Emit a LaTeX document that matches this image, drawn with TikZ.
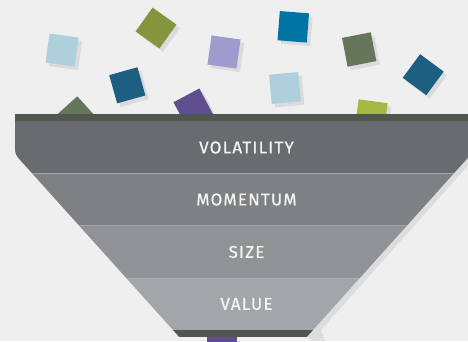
\documentclass[tikz,border=0pt]{standalone}
\usepackage{fontspec}
\setmainfont{Fira Sans}
\newfontfamily\lblfont{Fira Sans}[LetterSpace=7, FakeBold=0.6]
\definecolor{bgc}{HTML}{EFEFEF}
\definecolor{shd}{HTML}{DCDDDF}
\definecolor{sqshd}{HTML}{D9DBDD}
\definecolor{barc}{HTML}{51564F}
\definecolor{bandA}{HTML}{6A6B6F}
\definecolor{bandB}{HTML}{7F8084}
\definecolor{bandC}{HTML}{919296}
\definecolor{bandD}{HTML}{A4A5A8}
\definecolor{txt}{HTML}{F4F4F4}
\definecolor{lblue}{HTML}{AECFDC}
\definecolor{olive}{HTML}{84953E}
\definecolor{lav}{HTML}{A09BCD}
\definecolor{dteal}{HTML}{1C5F80}
\definecolor{ggreen}{HTML}{65765A}
\definecolor{purp}{HTML}{5F4E90}
\definecolor{blu}{HTML}{0073A5}
\definecolor{ygreen}{HTML}{A6B843}
\tikzset{
  sq/.style={minimum size=29.3pt, inner sep=0pt, outer sep=0pt, draw=none, fill=#1},
  sqs/.style={minimum size=29.3pt, inner sep=0pt, outer sep=0pt, draw=none, fill=sqshd},
  lbl/.style={text=txt, font=\lblfont\fontsize{17}{18}\selectfont, inner sep=0pt}
}
\newcommand{\mysq}[5]{%
  \node[sqs, rotate=#3] (#5s) at (#1+3.5,#2+3.5) {};
  \node[sq=#4, rotate=#3] (#5) at (#1,#2) {};}
\begin{document}
\begin{tikzpicture}[x=1pt,y=-1pt]
\useasboundingbox (0,0) rectangle (468,341);
\fill[bgc] (0,0) rectangle (468,341);
% squares
\mysq{62}{50}{-8}{lblue}{q1}
\mysq{156}{28}{-35.5}{olive}{q2}
\mysq{224}{52}{-8}{lav}{q3}
\mysq{127.3}{85.3}{15.7}{dteal}{q4}
\mysq{76.2}{117}{-48}{ggreen}{q5}
\mysq{193.3}{108.3}{28}{purp}{q6}
\mysq{293.3}{26.8}{-4.5}{blu}{q7}
\mysq{359.2}{49.5}{11}{ggreen}{q8}
\mysq{285}{88}{5}{lblue}{q9}
\mysq{423.2}{74.7}{-36.4}{dteal}{q10}
\mysq{371.2}{115.8}{-7.6}{ygreen}{q11}
\mysq{222}{352}{0}{purp}{q12}
% funnel shadow
\fill[shd] (478,114) -- (478,154.4) -- (321,330) -- (325,341) -- (313,341) -- (300,330) -- (300,114) -- cycle;
% funnel
\begin{scope}
\clip (15,114) -- (15,145) .. controls (15,154.4) .. (21.7,161.8) -- (179.3,337) -- (306.7,337) -- (464.3,161.8) .. controls (471,154.4) .. (471,145) -- (471,114) -- cycle;
\fill[barc] (0,114) rectangle (500,121);
\fill[bandA] (0,121) rectangle (500,173);
\fill[bandB] (0,173) rectangle (500,225);
\fill[bandC] (0,225) rectangle (500,278);
\fill[bandD] (0,278) rectangle (500,330);
\fill[barc] (0,330) rectangle (500,337);
\fill[bandB!70!white] (0,172.5) rectangle (500,173.5);
\fill[bandC!85!white] (0,224.5) rectangle (500,225.5);
\fill[bandD!90!white] (0,277.5) rectangle (500,278.5);
\end{scope}
\node[lbl] (t1) at (246.5,147.5) {VOLATILITY};
\node[lbl] (t2) at (246.5,199.5) {MOMENTUM};
\node[lbl] (t3) at (246.5,252) {SIZE};
\node[lbl] (t4) at (246.5,304) {VALUE};
\end{tikzpicture}
\end{document}
